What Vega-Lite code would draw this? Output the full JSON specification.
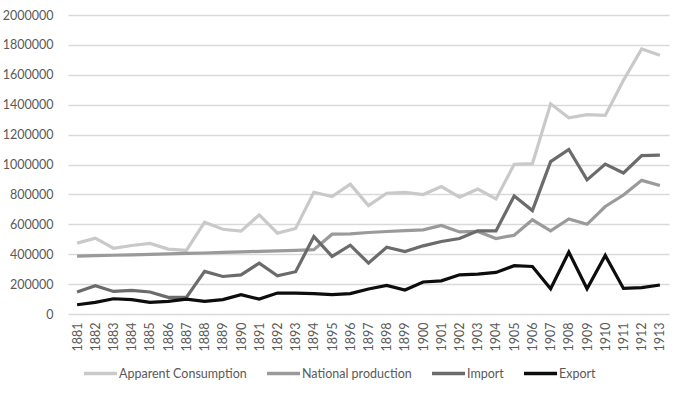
{
  "$schema": "https://vega.github.io/schema/vega-lite/v6.json",
  "autosize": {"type": "none"},
  "width": 601,
  "height": 299,
  "padding": {"left": 68, "top": 15, "right": 6, "bottom": 85},
  "background": "white",
  "config": {
    "view": {"stroke": null},
    "font": "Lato",
    "axis": {"labelFont": "Lato", "labelFontSize": 12.5, "labelColor": "#595959"},
    "legend": {"labelFont": "Lato", "labelFontSize": 12.5, "labelColor": "#595959"}
  },
  "data": {"values": [
    {"year":"1881","s":"Apparent Consumption","v":474000},{"year":"1882","s":"Apparent Consumption","v":507000},{"year":"1883","s":"Apparent Consumption","v":440000},{"year":"1884","s":"Apparent Consumption","v":458000},{"year":"1885","s":"Apparent Consumption","v":472000},{"year":"1886","s":"Apparent Consumption","v":434000},{"year":"1887","s":"Apparent Consumption","v":425000},{"year":"1888","s":"Apparent Consumption","v":614000},{"year":"1889","s":"Apparent Consumption","v":567000},{"year":"1890","s":"Apparent Consumption","v":554000},{"year":"1891","s":"Apparent Consumption","v":663000},{"year":"1892","s":"Apparent Consumption","v":541000},{"year":"1893","s":"Apparent Consumption","v":572000},{"year":"1894","s":"Apparent Consumption","v":814000},{"year":"1895","s":"Apparent Consumption","v":785000},{"year":"1896","s":"Apparent Consumption","v":868000},{"year":"1897","s":"Apparent Consumption","v":725000},{"year":"1898","s":"Apparent Consumption","v":808000},{"year":"1899","s":"Apparent Consumption","v":814000},{"year":"1900","s":"Apparent Consumption","v":799000},{"year":"1901","s":"Apparent Consumption","v":852000},{"year":"1902","s":"Apparent Consumption","v":781000},{"year":"1903","s":"Apparent Consumption","v":836000},{"year":"1904","s":"Apparent Consumption","v":770000},{"year":"1905","s":"Apparent Consumption","v":1001000},{"year":"1906","s":"Apparent Consumption","v":1006000},{"year":"1907","s":"Apparent Consumption","v":1406000},{"year":"1908","s":"Apparent Consumption","v":1313000},{"year":"1909","s":"Apparent Consumption","v":1333000},{"year":"1910","s":"Apparent Consumption","v":1328000},{"year":"1911","s":"Apparent Consumption","v":1564000},{"year":"1912","s":"Apparent Consumption","v":1773000},{"year":"1913","s":"Apparent Consumption","v":1731000},
    {"year":"1881","s":"National production","v":387000},{"year":"1882","s":"National production","v":390000},{"year":"1883","s":"National production","v":393000},{"year":"1884","s":"National production","v":396000},{"year":"1885","s":"National production","v":399000},{"year":"1886","s":"National production","v":402000},{"year":"1887","s":"National production","v":405000},{"year":"1888","s":"National production","v":408000},{"year":"1889","s":"National production","v":412000},{"year":"1890","s":"National production","v":415000},{"year":"1891","s":"National production","v":419000},{"year":"1892","s":"National production","v":422000},{"year":"1893","s":"National production","v":426000},{"year":"1894","s":"National production","v":430000},{"year":"1895","s":"National production","v":534000},{"year":"1896","s":"National production","v":536000},{"year":"1897","s":"National production","v":545000},{"year":"1898","s":"National production","v":552000},{"year":"1899","s":"National production","v":558000},{"year":"1900","s":"National production","v":563000},{"year":"1901","s":"National production","v":592000},{"year":"1902","s":"National production","v":549000},{"year":"1903","s":"National production","v":552000},{"year":"1904","s":"National production","v":505000},{"year":"1905","s":"National production","v":527000},{"year":"1906","s":"National production","v":630000},{"year":"1907","s":"National production","v":556000},{"year":"1908","s":"National production","v":636000},{"year":"1909","s":"National production","v":600000},{"year":"1910","s":"National production","v":719000},{"year":"1911","s":"National production","v":796000},{"year":"1912","s":"National production","v":894000},{"year":"1913","s":"National production","v":859000},
    {"year":"1881","s":"Import","v":147000},{"year":"1882","s":"Import","v":189000},{"year":"1883","s":"Import","v":151000},{"year":"1884","s":"Import","v":158000},{"year":"1885","s":"Import","v":147000},{"year":"1886","s":"Import","v":111000},{"year":"1887","s":"Import","v":111000},{"year":"1888","s":"Import","v":285000},{"year":"1889","s":"Import","v":251000},{"year":"1890","s":"Import","v":262000},{"year":"1891","s":"Import","v":340000},{"year":"1892","s":"Import","v":256000},{"year":"1893","s":"Import","v":283000},{"year":"1894","s":"Import","v":518000},{"year":"1895","s":"Import","v":385000},{"year":"1896","s":"Import","v":460000},{"year":"1897","s":"Import","v":340000},{"year":"1898","s":"Import","v":447000},{"year":"1899","s":"Import","v":418000},{"year":"1900","s":"Import","v":456000},{"year":"1901","s":"Import","v":485000},{"year":"1902","s":"Import","v":505000},{"year":"1903","s":"Import","v":556000},{"year":"1904","s":"Import","v":556000},{"year":"1905","s":"Import","v":790000},{"year":"1906","s":"Import","v":692000},{"year":"1907","s":"Import","v":1019000},{"year":"1908","s":"Import","v":1101000},{"year":"1909","s":"Import","v":897000},{"year":"1910","s":"Import","v":1003000},{"year":"1911","s":"Import","v":943000},{"year":"1912","s":"Import","v":1059000},{"year":"1913","s":"Import","v":1063000},
    {"year":"1881","s":"Export","v":62000},{"year":"1882","s":"Export","v":78000},{"year":"1883","s":"Export","v":102000},{"year":"1884","s":"Export","v":96000},{"year":"1885","s":"Export","v":78000},{"year":"1886","s":"Export","v":85000},{"year":"1887","s":"Export","v":100000},{"year":"1888","s":"Export","v":85000},{"year":"1889","s":"Export","v":96000},{"year":"1890","s":"Export","v":129000},{"year":"1891","s":"Export","v":100000},{"year":"1892","s":"Export","v":140000},{"year":"1893","s":"Export","v":140000},{"year":"1894","s":"Export","v":136000},{"year":"1895","s":"Export","v":129000},{"year":"1896","s":"Export","v":136000},{"year":"1897","s":"Export","v":167000},{"year":"1898","s":"Export","v":191000},{"year":"1899","s":"Export","v":160000},{"year":"1900","s":"Export","v":214000},{"year":"1901","s":"Export","v":222000},{"year":"1902","s":"Export","v":262000},{"year":"1903","s":"Export","v":267000},{"year":"1904","s":"Export","v":278000},{"year":"1905","s":"Export","v":323000},{"year":"1906","s":"Export","v":318000},{"year":"1907","s":"Export","v":169000},{"year":"1908","s":"Export","v":414000},{"year":"1909","s":"Export","v":169000},{"year":"1910","s":"Export","v":392000},{"year":"1911","s":"Export","v":171000},{"year":"1912","s":"Export","v":176000},{"year":"1913","s":"Export","v":194000}
  ]},
  "mark": {"type": "line", "strokeWidth": 3.2, "strokeJoin": "miter"},
  "encoding": {
    "x": {
      "field": "year", "type": "ordinal", "title": null,
      "scale": {"type": "point", "padding": 0.5},
      "axis": {"labelAngle": -90, "ticks": false, "domain": false, "grid": false, "labelPadding": 8, "labelBaseline": "middle"}
    },
    "y": {
      "field": "v", "type": "quantitative", "title": null,
      "scale": {"domain": [0, 2000000], "nice": false},
      "axis": {"values": [0,200000,400000,600000,800000,1000000,1200000,1400000,1600000,1800000,2000000], "format": "d", "ticks": false, "domain": false, "gridColor": "#d9d9d9", "gridWidth": 1.3, "labelPadding": 15}
    },
    "color": {
      "field": "s", "type": "nominal", "title": null,
      "scale": {"domain": ["Apparent Consumption", "National production", "Import", "Export"], "range": ["#c9c9c9", "#9a9a9a", "#6b6b6b", "#0d0d0d"]},
      "legend": {"orient": "none", "legendX": 14, "legendY": 340, "direction": "horizontal", "gridAlign": "none", "symbolType": "stroke", "symbolSize": 1089, "symbolStrokeWidth": 3.5, "labelOffset": 0, "columnPadding": 13}
    }
  }
}
